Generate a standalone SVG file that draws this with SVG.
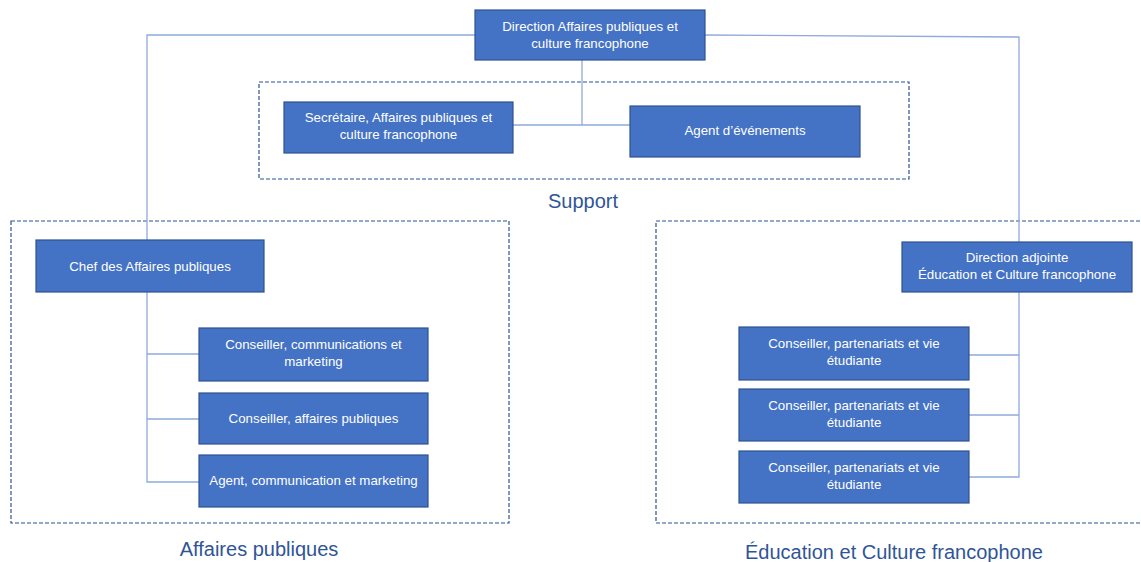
<svg xmlns="http://www.w3.org/2000/svg" width="1141" height="562" viewBox="0 0 1141 562">
<style>
.box{fill:#4472C4;stroke:#2F528F;stroke-width:1.2}
.t{fill:#fff;font-family:"Liberation Sans",Arial,sans-serif;font-size:13.3px;text-anchor:middle}
.grp{fill:none;stroke:#2F528F;stroke-width:1.2;stroke-dasharray:4,2}
.c{fill:none;stroke:#8FAADC;stroke-width:1.3}
.lbl{fill:#2F5597;font-family:"Liberation Sans",Arial,sans-serif;font-size:20px;text-anchor:middle}
</style>
<rect width="1141" height="562" fill="#fff"/>
<g id="groups">
<rect class="grp" x="259" y="82" width="650" height="97"/>
<rect class="grp" x="11" y="221" width="498" height="302"/>
<rect class="grp" x="656" y="221" width="490" height="302"/>
<text class="lbl" x="583" y="208">Support</text>
<text class="lbl" x="259" y="556">Affaires publiques</text>
<text class="lbl" x="894" y="559">Éducation et Culture francophone</text>
</g>
<g id="connectors">
<polyline class="c" points="475,35 147,35 147,240"/>
<polyline class="c" points="705,35 1019,37 1019,242"/>
<line class="c" x1="582" y1="60" x2="582" y2="125"/>
<line class="c" x1="513" y1="125" x2="630" y2="125"/>
<polyline class="c" points="147,292 147,482 199,482"/>
<line class="c" x1="147" y1="354" x2="199" y2="354"/>
<line class="c" x1="147" y1="419" x2="199" y2="419"/>
<polyline class="c" points="1019,292 1019,477 969,477"/>
<line class="c" x1="969" y1="355" x2="1019" y2="355"/>
<line class="c" x1="969" y1="415" x2="1019" y2="415"/>
</g>
<g id="n-direction">
<rect class="box" x="475" y="10" width="230" height="50"/>
<text class="t" x="590" y="31">Direction Affaires publiques et</text>
<text class="t" x="590" y="48">culture francophone</text>
</g>
<g id="n-secretaire">
<rect class="box" x="284" y="102" width="229" height="51"/>
<text class="t" x="398.5" y="122">Secrétaire, Affaires publiques et</text>
<text class="t" x="398.5" y="139">culture francophone</text>
</g>
<g id="n-agent-evenements">
<rect class="box" x="630" y="106" width="230" height="51"/>
<text class="t" x="745" y="135">Agent d’événements</text>
</g>
<g id="n-chef">
<rect class="box" x="36" y="240" width="228" height="52"/>
<text class="t" x="150" y="271">Chef des Affaires publiques</text>
</g>
<g id="n-conseiller-comm">
<rect class="box" x="199" y="328" width="229" height="53"/>
<text class="t" x="313.5" y="349">Conseiller, communications et</text>
<text class="t" x="313.5" y="366">marketing</text>
</g>
<g id="n-conseiller-aff">
<rect class="box" x="199" y="393" width="229" height="51"/>
<text class="t" x="313.5" y="423">Conseiller, affaires publiques</text>
</g>
<g id="n-agent-comm">
<rect class="box" x="199" y="455" width="229" height="52"/>
<text class="t" x="313.5" y="485">Agent, communication et marketing</text>
</g>
<g id="n-direction-adjointe">
<rect class="box" x="902" y="242" width="230" height="50"/>
<text class="t" x="1017" y="262">Direction adjointe</text>
<text class="t" x="1017" y="279">Éducation et Culture francophone</text>
</g>
<g id="n-conseiller-part-1">
<rect class="box" x="739" y="327" width="230" height="53"/>
<text class="t" x="854" y="348">Conseiller, partenariats et vie</text>
<text class="t" x="854" y="365">étudiante</text>
</g>
<g id="n-conseiller-part-2">
<rect class="box" x="739" y="389" width="230" height="52"/>
<text class="t" x="854" y="410">Conseiller, partenariats et vie</text>
<text class="t" x="854" y="427">étudiante</text>
</g>
<g id="n-conseiller-part-3">
<rect class="box" x="739" y="451" width="230" height="52"/>
<text class="t" x="854" y="472">Conseiller, partenariats et vie</text>
<text class="t" x="854" y="489">étudiante</text>
</g>
</svg>
